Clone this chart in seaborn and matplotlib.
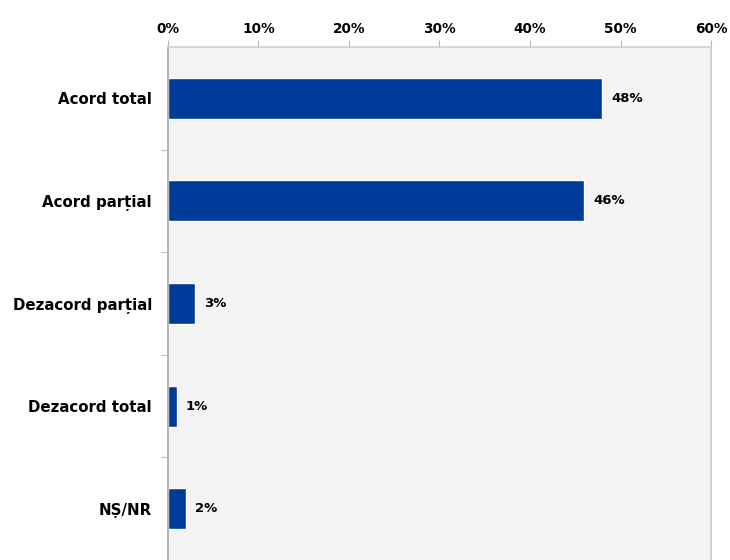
import matplotlib
matplotlib.use("Agg")
import matplotlib.pyplot as plt
import seaborn as sns
import pandas as pd
from matplotlib.ticker import FixedLocator

sns.set_style("white")
plt.rcParams["font.family"] = ["DejaVu Sans"]
plt.rcParams["text.color"] = "black"
plt.rcParams["xtick.color"] = "black"
plt.rcParams["ytick.color"] = "black"

# Date
categorii = ["Acord total", "Acord parțial", "Dezacord parțial", "Dezacord total", "NȘ/NR"]
procente = [48, 46, 3, 1, 2]
etichete_x = ["0%", "10%", "20%", "30%", "40%", "50%", "60%"]

df = pd.DataFrame({"categorie": categorii, "procent": procente})

fig = plt.figure(figsize=(7.3, 5.6), dpi=100)
ax = fig.add_axes([0.230, 0.0, 0.744, 0.916])

sns.barplot(data=df, x="procent", y="categorie", color="#003a99", width=0.4,
            saturation=1, ax=ax)
ax.set_facecolor("#f3f3f3")

ax.set_xlim(0, 60)
ax.set_ylim(len(categorii) - 0.5, -0.5)
ax.set_xticks(range(0, 61, 10))
ax.set_xticklabels(etichete_x, fontsize=9.8, fontweight="bold")
ax.xaxis.tick_top()
ax.tick_params(axis="x", length=5, color="#b8b8b8", pad=3, top=True, bottom=False)

ax.set_yticks(range(len(categorii)))
ax.set_yticklabels(categorii, fontsize=10.8, fontweight="bold")
ax.tick_params(axis="y", which="major", length=0, pad=11.5)
ax.yaxis.set_minor_locator(FixedLocator([i + 0.5 for i in range(len(categorii) - 1)]))
ax.tick_params(axis="y", which="minor", length=5, color="#b0b0b0", left=True)

ax.set_xlabel("")
ax.set_ylabel("")

for lado in ["top", "left", "right"]:
    ax.spines[lado].set_visible(True)
    ax.spines[lado].set_linewidth(1.2)
ax.spines["top"].set_color("#d0d0d0")
ax.spines["right"].set_color("#c8c8c8")
ax.spines["left"].set_color("#a8a8a8")
ax.spines["bottom"].set_visible(False)

for cont in ax.containers:
    ax.bar_label(cont, labels=[f"{v}%" for v in procente], padding=6.5,
                 fontsize=9.5, fontweight="bold")

plt.savefig("out.png", dpi=100)
